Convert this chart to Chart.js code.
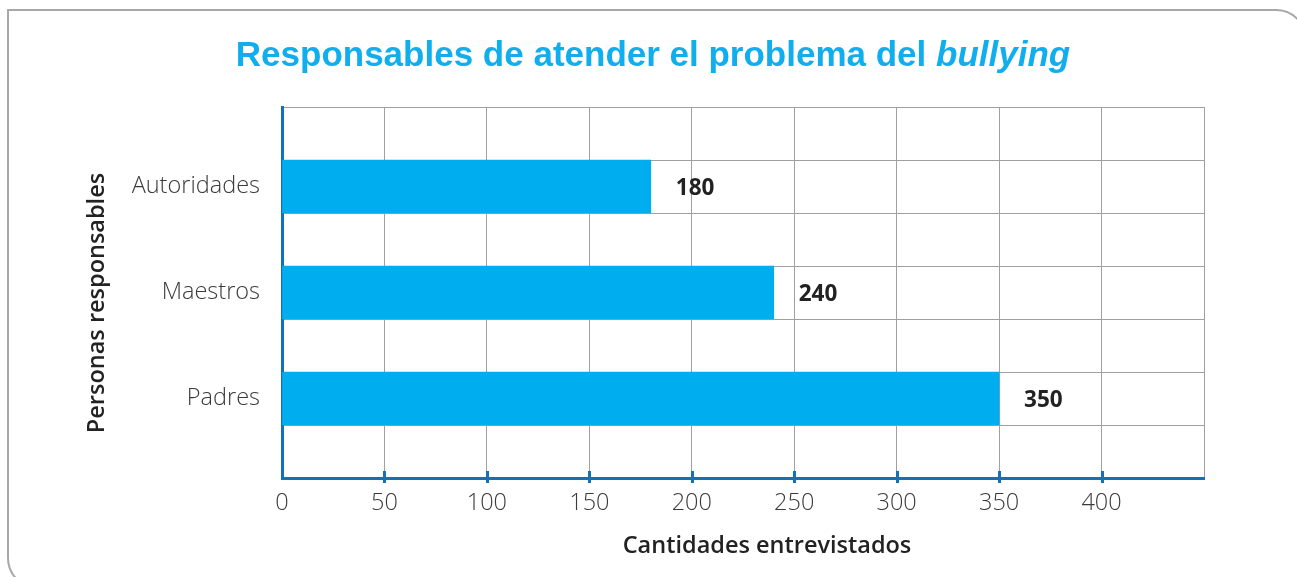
<!DOCTYPE html>
<html lang="es">
<head>
<meta charset="utf-8">
<title>Responsables de atender el problema del bullying</title>
<script src="https://cdn.jsdelivr.net/npm/chart.js@4/dist/chart.umd.min.js"></script>
<style>
  html, body { margin: 0; padding: 0; background: #fff; }
  #wrap { width: 1297px; height: 577px; position: relative; }
</style>
</head>
<body>
<div id="wrap"><canvas id="chart" width="1297" height="577"></canvas></div>
<script>
// Datos de la encuesta
const categories = ['Autoridades', 'Maestros', 'Padres'];
const values = [180, 240, 350];
const xTicks = [0, 50, 100, 150, 200, 250, 300, 350, 400];
const xMax = 450;

const titleMain = 'Responsables de atender el problema del ';
const titleItalic = 'bullying';
const yTitle = 'Personas responsables';
const xTitle = 'Cantidades entrevistados';

const BLUE_BAR = '#00adee';
const BLUE_AXIS = '#1172bb';
const GRID = '#a0a0a0';
const TEXT = '#3a3a3a';
const FAMILY = '"Open Sans", "Noto Sans", sans-serif';
const AXIS_TITLE = '600 23.5px ' + FAMILY;

// cada categoría ocupa una franja, con franjas vacías entre ellas
const slots = [''];
const slotValues = [null];
categories.forEach((c, i) => {
    slots.push(c, '');
    slotValues.push(values[i], null);
});

// marco redondeado de fondo
const framePlugin = {
    id: 'frame',
    beforeDraw(chart) {
        const ctx = chart.ctx;
        ctx.save();
        ctx.strokeStyle = '#a8a8a8';
        ctx.lineWidth = 2;
        ctx.beginPath();
        ctx.roundRect(8, 10, 1298, 578, [0, 30, 30, 30]);
        ctx.stroke();
        ctx.restore();
    }
};

// título, títulos de ejes, marcas del eje x y etiquetas de valor
const decorPlugin = {
    id: 'decor',
    afterDraw(chart) {
        const ctx = chart.ctx;
        const area = chart.chartArea;
        const x = chart.scales.x;
        ctx.save();

        // título con la palabra en cursiva
        const fMain = 'bold 35px "Liberation Sans", Arial, sans-serif';
        const fItal = 'italic bold 35px "Liberation Sans", Arial, sans-serif';
        ctx.font = fMain;
        const w1 = ctx.measureText(titleMain).width;
        ctx.font = fItal;
        const w2 = ctx.measureText(titleItalic).width;
        let tx = 653 - (w1 + w2) / 2;
        ctx.fillStyle = '#11aeee';
        ctx.textBaseline = 'alphabetic';
        ctx.textAlign = 'left';
        ctx.font = fMain;
        ctx.fillText(titleMain, tx, 66);
        ctx.font = fItal;
        ctx.fillText(titleItalic, tx + w1, 66);

        // marcas cortas sobre el eje x
        ctx.strokeStyle = BLUE_AXIS;
        ctx.lineWidth = 3;
        xTicks.slice(1).forEach(v => {
            const px = Math.round(x.getPixelForValue(v)) + 0.5;
            ctx.beginPath();
            ctx.moveTo(px, area.bottom - 7);
            ctx.lineTo(px, area.bottom + 5);
            ctx.stroke();
        });

        // etiquetas de valor
        ctx.fillStyle = '#222';
        ctx.font = '700 22.5px ' + FAMILY;
        ctx.textBaseline = 'middle';
        const meta = chart.getDatasetMeta(0);
        meta.data.forEach((bar, i) => {
            if (slotValues[i] == null) return;
            ctx.fillText(String(slotValues[i]), bar.x + 25, bar.y + 2);
        });

        // títulos de los ejes
        ctx.font = AXIS_TITLE;
        ctx.fillStyle = '#222';
        ctx.textAlign = 'center';
        ctx.fillText(xTitle, 767, 546);
        ctx.translate(97, 303);
        ctx.rotate(-Math.PI / 2);
        ctx.fillText(yTitle, 0, 0);
        ctx.restore();
    }
};

new Chart(document.getElementById('chart'), {
    type: 'bar',
    data: {
        labels: slots,
        datasets: [{
            data: slotValues,
            backgroundColor: BLUE_BAR,
            borderWidth: 0,
            barPercentage: 1,
            categoryPercentage: 1
        }]
    },
    options: {
        indexAxis: 'y',
        responsive: false,
        animation: false,
        events: [],
        layout: { padding: { top: 107, right: 93, left: 0, bottom: 0 } },
        plugins: {
            legend: { display: false },
            tooltip: { enabled: false }
        },
        scales: {
            x: {
                min: 0,
                max: xMax,
                afterFit: s => { s.height = 99; },
                afterBuildTicks: s => { s.ticks = xTicks.concat([xMax]).map(v => ({ value: v })); },
                grid: { color: GRID, lineWidth: 1, drawTicks: false },
                border: { color: BLUE_AXIS, width: 3 },
                ticks: {
                    padding: 11,
                    color: TEXT,
                    font: { family: FAMILY, size: 23.5, weight: 300 },
                    callback: v => (v === xMax ? '' : v)
                }
            },
            y: {
                offset: true,
                afterFit: s => { s.width = 282; },
                grid: { color: GRID, lineWidth: 1, offset: true, drawTicks: false },
                border: { color: BLUE_AXIS, width: 3 },
                ticks: {
                    padding: 22,
                    color: TEXT,
                    autoSkip: false,
                    font: { family: FAMILY, size: 23.5, weight: 300 }
                }
            }
        }
    },
    plugins: [framePlugin, decorPlugin]
});
</script>
</body>
</html>
